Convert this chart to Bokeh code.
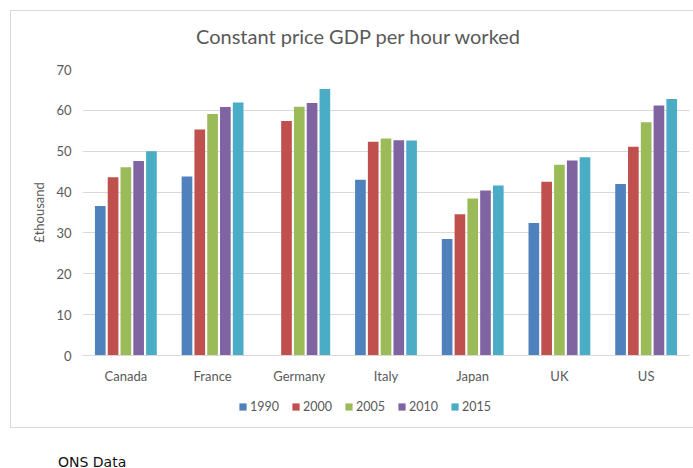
from bokeh.plotting import figure
from bokeh.models import ColumnDataSource, FactorRange, Legend, LegendItem, Div
from bokeh.layouts import column
from bokeh.transform import dodge
from bokeh.embed import file_html
from bokeh.resources import INLINE

countries = ["Canada", "France", "Germany", "Italy", "Japan", "UK", "US"]
years = ["1990", "2000", "2005", "2010", "2015"]
v1990 = [36.6, 43.8, float("nan"), 43.0, 28.5, 32.4, 42.0]
v2000 = [43.6, 55.3, 57.4, 52.3, 34.6, 42.5, 51.1]
v2005 = [46.1, 59.1, 60.9, 53.1, 38.4, 46.7, 57.1]
v2010 = [47.6, 60.8, 61.8, 52.7, 40.4, 47.7, 61.2]
v2015 = [50.0, 61.9, 65.2, 52.6, 41.6, 48.5, 62.8]
colors = ["#4F81BD", "#C0504D", "#9BBB59", "#8064A2", "#4BACC6"]
y_ticks = [0, 10, 20, 30, 40, 50, 60, 70]

src = ColumnDataSource(dict(country=countries, y1990=v1990, y2000=v2000,
                            y2005=v2005, y2010=v2010, y2015=v2015))

FONT = "Lato"
GREY = "#595959"

title = Div(text="Constant price GDP per hour worked", width=682, height=48, margin=0,
            styles={"font-family": "Lato", "font-size": "20px", "line-height": "23px",
                    "color": GREY, "text-align": "center", "padding-top": "14px",
                    "padding-left": "12px", "box-sizing": "border-box"})

p = figure(x_range=FactorRange(factors=countries), y_range=(0, 70),
           width=682, height=331, output_backend="svg", toolbar_location=None,
           min_border_left=71, min_border_right=4, min_border_top=10, min_border_bottom=35)
p.margin = 0
p.outline_line_color = None
p.background_fill_color = "white"
p.border_fill_color = "white"

offsets = [-0.295, -0.1475, 0.0, 0.1475, 0.295]
for yr, off, c in zip(years, offsets, colors):
    p.vbar(x=dodge("country", off, range=p.x_range), top="y" + yr, width=0.123,
           source=src, fill_color=c, line_color=None)

p.xgrid.grid_line_color = None
p.ygrid.grid_line_color = "#d9d9d9"
p.ygrid.ticker = y_ticks
p.yaxis.ticker = y_ticks
p.yaxis.axis_line_color = None
p.yaxis.major_tick_line_color = None
p.yaxis.minor_tick_line_color = None
p.yaxis.major_tick_out = 0
p.yaxis.major_label_standoff = 11
p.yaxis.major_label_text_font = FONT
p.yaxis.major_label_text_font_size = "13px"
p.yaxis.major_label_text_color = GREY
p.yaxis.axis_label = "£thousand"
p.yaxis.axis_label_text_font = FONT
p.yaxis.axis_label_text_font_style = "normal"
p.yaxis.axis_label_text_font_size = "13px"
p.yaxis.axis_label_text_color = GREY
p.yaxis.axis_label_standoff = 6

p.xaxis.axis_line_color = "#d9d9d9"
p.xaxis.major_tick_line_color = None
p.xaxis.minor_tick_line_color = None
p.xaxis.major_tick_out = 0
p.xaxis.major_label_standoff = 12
p.xaxis.major_label_text_font = FONT
p.xaxis.major_label_text_font_size = "13px"
p.xaxis.major_label_text_color = GREY

# legend strip below the chart; its renderers carry the series colours but draw nothing visible
lf = figure(width=682, height=30, output_backend="svg", toolbar_location=None,
            x_range=FactorRange(factors=countries), y_range=(1000, 1001),
            x_axis_location=None, y_axis_location=None,
            min_border_left=0, min_border_right=0, min_border_top=0, min_border_bottom=0)
lf.margin = (0, 0, 7, 0)
lf.outline_line_color = None
lf.grid.visible = False
lf.border_fill_color = "white"
lf.background_fill_color = "white"
items = []
for yr, c in zip(years, colors):
    r = lf.vbar(x="country", top="y" + yr, bottom="y" + yr, width=0.001, source=src,
                fill_color=c, line_color=None)
    items.append(LegendItem(label=yr, renderers=[r]))
legend = Legend(items=items, orientation="horizontal", location=(156, 6),
                glyph_width=9, glyph_height=9, label_standoff=3, spacing=12,
                padding=0, margin=0, border_line_color=None, background_fill_alpha=0,
                label_text_font=FONT, label_text_font_size="12.5px", label_text_color=GREY,
                label_height=14)
lf.add_layout(legend, "center")

chart = column(title, p, lf, spacing=0, margin=(11, 0, 0, 11),
               styles={"outline": "1px solid #d9d9d9"})

note = Div(text="ONS Data", width=200, height=12, margin=(29, 0, 0, 58),
           styles={"font-family": "DejaVu Sans", "font-size": "14px",
                   "line-height": "12px", "color": "#111111", "overflow": "visible"})

layout = column(chart, note, spacing=0, margin=0)
open("out.html", "w").write(file_html(layout, INLINE))
